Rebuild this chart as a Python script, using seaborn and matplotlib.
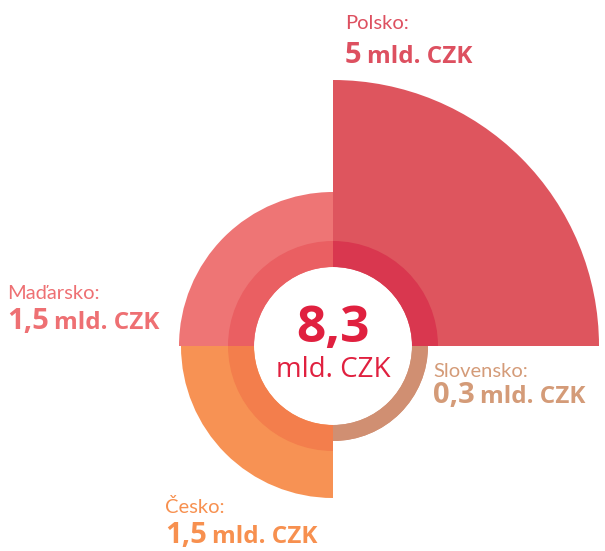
import numpy as np
import matplotlib
matplotlib.use("Agg")
import matplotlib.pyplot as plt
import seaborn as sns

countries = ["Polsko", "Maďarsko", "Česko", "Slovensko"]
values = ["5", "1,5", "1,5", "0,3"]
outer_radius = [266, 154, 152, 95]   # length of each sector
inner_radius = [105, 105, 105, 95]
total = "8,3"
unit = "mld. CZK"

outer_colors = ["#DE555E", "#EE7575", "#F79254", "#D08F72"]
inner_colors = ["#D9374F", "#EA5F62", "#F37E4C", "#D08F72"]
label_colors = ["#DD5060", "#EE7073", "#F7904F", "#D49B78"]

sns.set_theme(style="white")
plt.rcParams["font.family"] = ["Lato", "DejaVu Sans"]
WIDE = ["Open Sans", "DejaVu Sans"]

W, H = 605, 551
fig = plt.figure(figsize=(W / 100, H / 100), dpi=100)

cx, cy, R = 333, 346, 270
hole = 79
ax = fig.add_axes([(cx - R) / W, (H - cy - R) / H, 2 * R / W, 2 * R / H], projection="polar")
theta = np.deg2rad([45, 135, 225, 315])
width = np.pi / 2
ax.bar(theta, np.array(outer_radius) - hole, width=width, bottom=hole,
       color=outer_colors, linewidth=0)
ax.bar(theta, np.array(inner_radius) - hole, width=width, bottom=hole,
       color=inner_colors, linewidth=0)
ax.set_ylim(0, R)
ax.axis("off")

def px(x, y):
    return x / W, 1 - y / H

# centre total
fig.text(*px(cx, 342), total, ha="center", va="baseline", fontsize=37,
         fontweight="bold", color="#E0203F", family=WIDE)
fig.text(*px(cx, 377), unit, ha="center", va="baseline", fontsize=20,
         color="#E0203F", family=WIDE)

# labels: (left x, name baseline, value baseline)
label_pos = [(345, 29, 63), (7, 299, 329), (165, 513, 543), (433, 377, 403)]
renderer = fig.canvas.get_renderer()
for name, val, col, (lx, ny, vy) in zip(countries, values, label_colors, label_pos):
    fig.text(*px(lx, ny), name + ":", ha="left", va="baseline", fontsize=14.5,
             color=col)
    t = fig.text(*px(lx, vy), val, ha="left", va="baseline", fontsize=21,
                 fontweight="bold", color=col, family=WIDE)
    bb = t.get_window_extent(renderer)
    fig.text(*px(lx + bb.width + 5, vy), unit,
             ha="left", va="baseline", fontsize=17.5, fontweight="bold",
             color=col, family=WIDE)

fig.savefig("out.png", dpi=100)
